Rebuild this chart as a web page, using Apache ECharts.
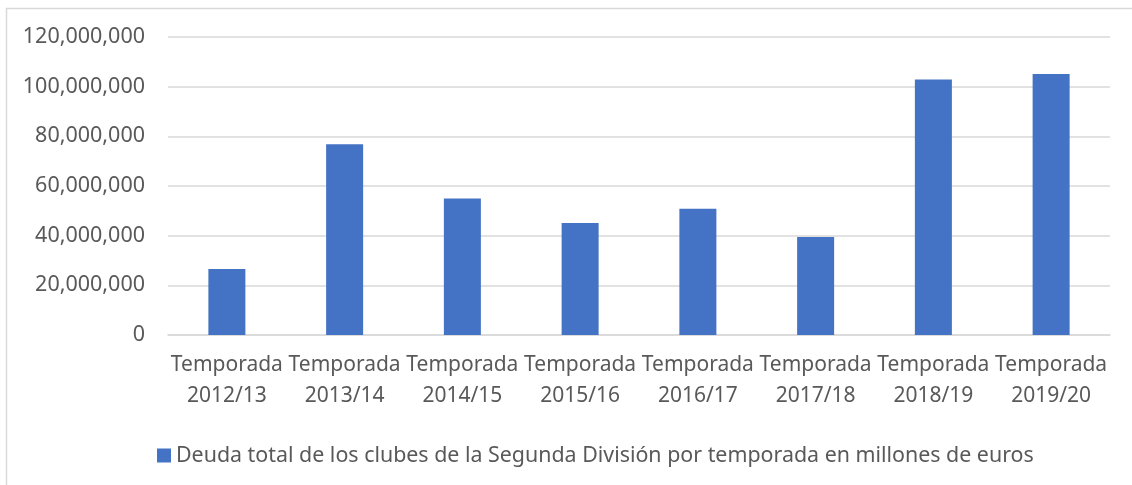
<!DOCTYPE html>
<html>
<head>
<meta charset="utf-8">
<title>Deuda Segunda División</title>
<script src="https://cdn.jsdelivr.net/npm/echarts@6/dist/echarts.min.js"></script>
<style>
    html, body { margin: 0; padding: 0; background: #fff; }
    #chart { width: 1132px; height: 485px; }
</style>
</head>
<body>
<div id="chart"></div>
<script>
'use strict';

// datos de la grafica
var temporadas = ['Temporada\n2012/13', 'Temporada\n2013/14', 'Temporada\n2014/15', 'Temporada\n2015/16',
    'Temporada\n2016/17', 'Temporada\n2017/18', 'Temporada\n2018/19', 'Temporada\n2019/20'];
var deuda = [26600000, 76800000, 55000000, 45100000, 50800000, 39500000, 102900000, 105100000];
var serieNombre = 'Deuda total de los clubes de la Segunda División por temporada en millones de euros';

var fuente = '"Noto Sans", sans-serif',
    gris = '#595959',
    lineaGris = '#d9d9d9';

function miles(v) {
    return String(v).replace(/\B(?=(\d{3})+(?!\d))/g, ',');
}

var myChart = echarts.init(document.getElementById('chart'));

var option = {
    animation: false,
    backgroundColor: '#fff',
    textStyle: { fontFamily: fuente },
    // marco del grafico
    graphic: [{
        type: 'rect',
        shape: { x: 6.5, y: 8.5, width: 1200, height: 600 },
        style: { fill: 'none', stroke: lineaGris, lineWidth: 1.5 },
        silent: true,
        z: -1
    }],
    grid: {
        left: 168,
        right: 22,
        top: 37,
        bottom: 150
    },
    legend: {
        left: 152,
        top: 440,
        itemWidth: 14,
        itemHeight: 14,
        itemGap: 6,
        icon: 'rect',
        textStyle: { fontFamily: fuente, fontSize: 21.4, color: gris },
        data: [serieNombre]
    },
    xAxis: {
        type: 'category',
        data: temporadas,
        axisLine: { lineStyle: { color: lineaGris, width: 1.5 } },
        axisTick: { show: false },
        axisLabel: {
            fontFamily: fuente,
            fontSize: 21,
            color: gris,
            lineHeight: 31,
            margin: 15,
            interval: 0
        }
    },
    yAxis: {
        type: 'value',
        min: 0,
        max: 120000000,
        interval: 20000000,
        axisLine: { show: false },
        axisTick: { show: false },
        splitLine: { lineStyle: { color: lineaGris, width: 1.5 } },
        axisLabel: {
            fontFamily: fuente,
            fontSize: 21.5,
            color: gris,
            margin: 23,
            formatter: miles
        }
    },
    series: [{
        name: serieNombre,
        type: 'bar',
        barWidth: 37,
        itemStyle: { color: '#4472C4' },
        data: deuda
    }]
};

myChart.setOption(option);
</script>
</body>
</html>
